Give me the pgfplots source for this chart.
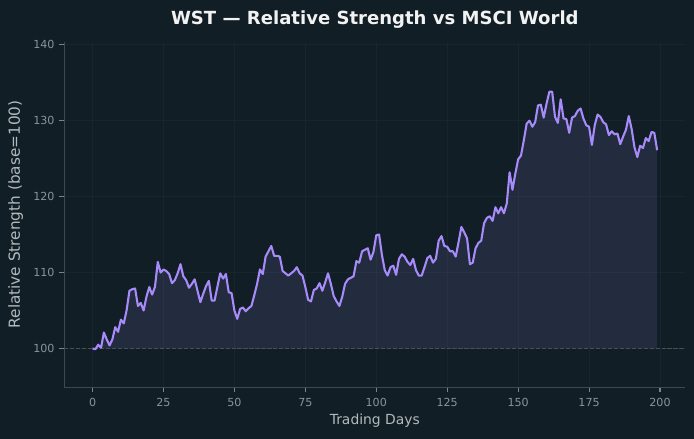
\documentclass[border=0pt]{standalone}
\usepackage{fontspec}
\setmainfont{DejaVu Sans}
\usepackage{pgfplots}
\pgfplotsset{compat=1.18}
\usepackage{pgfplotstable}
\usepgfplotslibrary{fillbetween}
\definecolor{bgcol}{HTML}{111E25}
\definecolor{gridcol}{HTML}{17252C}
\definecolor{spinecol}{HTML}{3E494F}
\definecolor{tickmarkcol}{HTML}{7A8489}
\definecolor{tickcol}{HTML}{8A9499}
\definecolor{labelcol}{HTML}{B3BABE}
\definecolor{titlecol}{HTML}{F2F2F2}
\definecolor{linecol}{HTML}{A78BFA}
\definecolor{basecol}{HTML}{465056}
\pgfplotstableread{
day rs
0 100.0
1 99.9
2 100.5
3 100.1
4 102.1
5 101.2
6 100.4
7 101.2
8 102.8
9 102.2
10 103.8
11 103.3
12 105.0
13 107.6
14 107.8
15 107.9
16 105.6
17 106.0
18 105.0
19 106.8
20 108.1
21 107.1
22 108.1
23 111.4
24 110.0
25 110.4
26 110.2
27 109.8
28 108.6
29 109.0
30 109.9
31 111.1
32 109.5
33 109.0
34 108.0
35 108.5
36 109.1
37 107.6
38 106.1
39 107.2
40 108.2
41 108.9
42 106.3
43 106.3
44 108.1
45 109.9
46 109.2
47 109.8
48 107.4
49 107.3
50 105.0
51 103.9
52 105.2
53 105.4
54 104.9
55 105.3
56 105.6
57 107.0
58 108.5
59 110.4
60 109.8
61 112.1
62 112.8
63 113.5
64 112.2
65 112.2
66 112.1
67 110.2
68 109.9
69 109.6
70 109.9
71 110.2
72 110.7
73 109.9
74 109.6
75 108.1
76 106.4
77 106.2
78 107.7
79 107.9
80 108.6
81 107.6
82 108.7
83 109.9
84 108.5
85 106.9
86 106.2
87 105.6
88 106.8
89 108.5
90 109.1
91 109.3
92 109.5
93 111.5
94 111.3
95 112.8
96 113.0
97 113.2
98 111.7
99 112.7
100 114.9
101 115.0
102 112.3
103 110.3
104 109.6
105 110.7
106 110.9
107 109.7
108 111.8
109 112.4
110 112.1
111 111.4
112 111.0
113 111.8
114 110.3
115 109.6
116 109.6
117 110.7
118 111.9
119 112.2
120 111.3
121 111.8
122 114.2
123 114.8
124 113.5
125 113.4
126 112.8
127 112.8
128 112.1
129 114.0
130 116.0
131 115.3
132 114.5
133 111.1
134 111.3
135 113.2
136 113.9
137 114.2
138 116.5
139 117.2
140 117.4
141 116.8
142 118.6
143 117.8
144 118.6
145 117.8
146 119.1
147 123.2
148 120.9
149 123.0
150 124.9
151 125.4
152 127.4
153 129.6
154 130.0
155 129.2
156 129.8
157 132.0
158 132.1
159 130.4
160 132.2
161 133.8
162 133.8
163 130.5
164 129.7
165 132.8
166 130.3
167 130.2
168 128.4
169 130.4
170 130.6
171 131.3
172 131.6
173 130.3
174 129.4
175 129.2
176 126.8
177 129.4
178 130.8
179 130.5
180 129.8
181 129.5
182 128.1
183 128.6
184 128.2
185 128.3
186 126.9
187 127.9
188 128.8
189 130.6
190 128.9
191 126.5
192 125.2
193 126.7
194 126.4
195 127.7
196 127.3
197 128.5
198 128.4
199 126.1
}\rsdata
\begin{document}
\pagecolor{bgcol}%
\begin{tikzpicture}
\begin{axis}[
  at={(0,0)}, anchor=south west,
  scale only axis,
  width=447.2pt, height=248.8pt,
  xmin=-9.95, xmax=208.95,
  ymin=94.9, ymax=140.4,
  axis x line*=bottom, axis y line*=left,
  axis line style={draw=spinecol, line width=0.8pt, -},
  tick align=outside,
  major tick length=3.5pt,
  tick style={draw=tickmarkcol, line width=0.8pt},
  xtick={0,25,...,200},
  ytick={100,110,120,130,140},
  grid=major,
  grid style={draw=gridcol, line width=0.6pt},
  /pgf/number format/assume math mode=true,
  ticklabel style={font=\fontsize{8}{10}\selectfont, text=tickcol},
  xticklabel style={yshift=-0.8pt},
  title={WST — Relative Strength vs MSCI World},
  title style={font=\bfseries\fontsize{13}{15}\selectfont, text=titlecol, at={(0.5,1)}, anchor=base, yshift=6pt},
  xlabel={Trading Days},
  xlabel style={font=\fontsize{10}{12}\selectfont, text=labelcol, at={(axis description cs:0.5,0)}, anchor=center, yshift=-24.3pt},
  ylabel={Relative Strength (base=100)},
  ylabel style={font=\fontsize{11}{13}\selectfont, text=labelcol, at={(axis description cs:-0.0783,0.5)}, anchor=center},
]
\addplot[draw=basecol, line width=0.8pt, dash pattern=on 3pt off 1.3pt, forget plot] coordinates {(-9.95,100) (208.95,100)};
\addplot[draw=none, name path=base, forget plot] coordinates {(0,100) (199,100)};
\addplot[draw=none, name path=rsline, forget plot] table[x=day, y=rs] {\rsdata};
\addplot[fill=linecol, fill opacity=0.12, draw=none, forget plot] fill between[of=rsline and base];
\addplot[draw=linecol, line width=1.5pt, line join=round] table[x=day, y=rs] {\rsdata};
\end{axis}
\pgfresetboundingbox
\path[use as bounding box] (-46.3pt,-37.2pt) rectangle (453.4pt,278.8pt);
\end{tikzpicture}
\end{document}
